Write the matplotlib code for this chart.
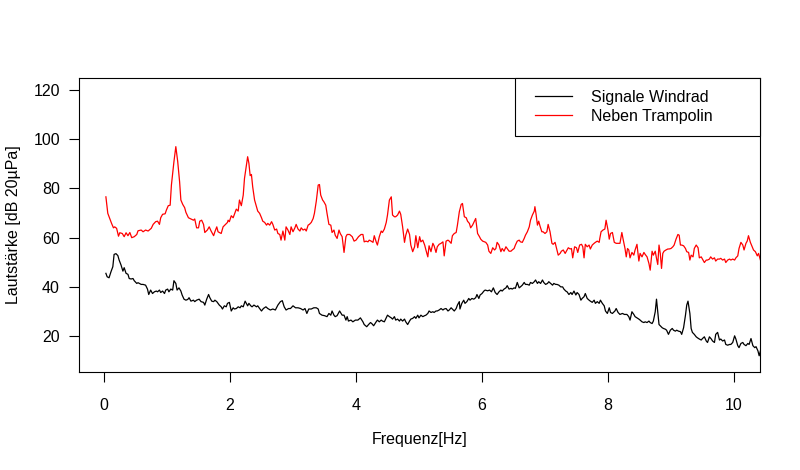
import matplotlib
matplotlib.use("Agg")
import matplotlib.pyplot as plt
from matplotlib.legend_handler import HandlerLine2D

plt.rcParams['font.family'] = ['Liberation Sans', 'DejaVu Sans']

series_labels = ["Signale Windrad", "Neben Trampolin"]
series_colors = ["black", "red"]

# Signale Windrad (frequency Hz, level dB)
windrad = [
    (0.03,45.5),(0.05,44.1),(0.08,43.7),(0.11,46.1),(0.14,48.2),(0.16,53.2),(0.19,53.5),(0.22,52.7),(0.24,50.9),(0.27,48.9),
    (0.30,46.4),(0.32,47.8),(0.35,45.5),(0.38,45.1),(0.40,43.4),(0.43,43.2),(0.46,43.4),(0.48,42.5),(0.52,41.4),(0.54,41.7),
    (0.59,41.0),(0.62,41.0),(0.66,40.7),(0.69,39.1),(0.71,36.9),(0.74,38.7),(0.77,37.3),(0.80,38.0),(0.83,38.3),(0.85,38.0),
    (0.88,38.7),(0.90,37.7),(0.93,38.3),(0.96,37.3),(0.98,38.7),(1.01,39.1),(1.03,38.0),(1.06,39.1),(1.09,38.7),(1.11,42.5),
    (1.14,41.4),(1.16,38.7),(1.19,39.6),(1.22,38.3),(1.24,36.7),(1.27,35.0),(1.30,34.6),(1.33,34.9),(1.35,35.6),(1.38,34.2),
    (1.42,34.6),(1.44,34.0),(1.47,34.6),(1.51,35.0),(1.54,34.0),(1.58,33.7),(1.60,32.6),(1.63,35.0),(1.66,36.9),(1.68,35.6),
    (1.71,34.2),(1.74,34.0),(1.76,34.6),(1.79,34.0),(1.83,32.6),(1.86,31.9),(1.88,31.0),(1.91,32.3),(1.94,31.9),(1.96,33.3),
    (1.99,33.7),
    (2.02,30.2),(2.05,31.5),(2.07,31.0),(2.10,31.2),(2.13,31.9),(2.16,31.5),(2.18,32.3),(2.21,31.9),(2.24,34.2),(2.28,32.3),
    (2.30,33.3),(2.33,32.3),(2.35,31.9),(2.38,32.6),(2.42,31.9),(2.44,32.3),(2.47,31.2),(2.50,30.2),(2.53,31.2),(2.57,31.9),
    (2.60,31.2),(2.64,30.6),(2.68,31.0),(2.72,30.6),(2.76,32.6),(2.80,34.0),(2.83,34.4),(2.86,31.9),(2.89,30.6),(2.93,31.2),
    (2.96,31.2),(3.00,32.3),(3.04,31.5),(3.08,31.5),(3.12,31.2),(3.16,30.6),(3.19,31.2),(3.22,29.2),(3.25,31.0),(3.29,31.0),
    (3.33,31.5),(3.37,31.5),(3.40,31.0),(3.42,29.2),(3.46,28.5),(3.50,28.3),(3.54,27.9),(3.57,29.2),(3.60,28.5),(3.62,30.2),
    (3.65,28.5),(3.67,27.9),(3.70,28.3),(3.74,30.2),(3.78,28.5),(3.81,28.5),(3.84,26.5),(3.86,27.9),(3.88,26.1),(3.92,26.5),
    (3.95,25.8),(3.99,26.5),(4.03,26.5),(4.07,27.4),
    (4.11,25.8),(4.13,24.7),(4.17,23.8),(4.20,24.7),(4.23,25.5),(4.25,25.1),(4.28,24.2),(4.32,25.8),(4.34,26.5),(4.37,25.8),
    (4.40,26.5),(4.42,26.1),(4.45,25.8),(4.48,27.4),(4.50,28.5),(4.53,27.9),(4.56,27.4),(4.58,26.9),(4.61,27.9),(4.63,26.5),
    (4.66,26.9),(4.69,26.1),(4.71,26.9),(4.74,26.1),(4.77,26.9),(4.79,25.8),(4.82,24.7),(4.85,26.1),(4.87,26.9),(4.90,27.2),
    (4.93,27.9),(4.95,27.2),(4.98,28.5),(5.00,27.4),(5.03,28.5),(5.06,27.9),(5.09,28.3),(5.11,28.5),(5.14,29.2),(5.16,30.2),
    (5.19,29.6),(5.22,29.9),(5.24,29.6),(5.27,30.2),(5.29,30.2),(5.32,30.6),(5.35,31.2),(5.38,30.6),(5.40,31.0),(5.43,31.2),
    (5.46,30.2),(5.48,30.6),(5.51,31.5),(5.53,31.0),(5.56,30.2),(5.59,31.2),(5.61,32.6),(5.64,34.0),(5.65,31.0),(5.68,33.3),
    (5.71,34.6),(5.73,33.3),(5.76,34.0),(5.79,35.3),(5.81,34.6),(5.84,35.3),(5.87,35.0),(5.90,35.6),(5.92,36.9),(5.95,35.3),
    (5.97,36.7),(6.00,37.3),(6.03,38.3),(6.05,38.7),(6.09,38.4),(6.12,38.7),(6.15,38.0),(6.18,39.6),(6.21,37.7),
    (6.24,36.9),(6.27,38.0),(6.30,38.7),(6.32,38.3),(6.35,39.1),(6.38,39.6),(6.40,40.5),(6.43,39.1),(6.46,39.4),(6.48,39.1),
    (6.51,39.6),(6.53,39.4),(6.56,41.8),(6.59,39.6),(6.61,40.0),(6.64,40.7),(6.67,41.8),(6.69,41.0),(6.72,41.0),(6.75,40.7),
    (6.77,41.8),(6.80,41.4),(6.83,42.1),(6.85,42.8),(6.88,41.4),(6.90,42.1),(6.93,41.4),(6.96,42.8),(6.98,41.8),(7.01,41.0),
    (7.04,41.4),(7.06,42.1),(7.09,41.4),(7.12,40.7),(7.14,41.4),(7.17,41.0),(7.19,41.0),(7.22,40.7),(7.25,40.0),(7.28,40.0),
    (7.30,39.1),(7.33,38.3),(7.35,38.0),(7.38,36.9),(7.41,37.7),(7.43,36.9),(7.46,38.3),(7.49,36.7),(7.51,37.7),(7.54,36.9),
    (7.57,34.6),(7.59,35.3),(7.62,36.0),(7.64,37.3),(7.67,35.3),(7.70,34.6),(7.72,34.2),(7.75,33.7),(7.78,34.6),(7.80,33.3),
    (7.83,34.0),(7.86,33.3),(7.88,34.6),(7.91,33.3),(7.94,32.3),(7.96,30.2),(7.99,29.2),(8.02,31.5),(8.04,29.6),(8.07,29.2),
    (8.11,30.2),(8.13,31.2),(8.16,29.6),(8.19,28.8),(8.23,29.2),(8.26,28.8),(8.30,28.8),(8.33,27.9),
    (8.35,26.5),(8.38,29.9),(8.41,28.8),(8.43,27.9),(8.46,27.4),(8.49,26.9),(8.51,26.5),(8.54,25.8),(8.57,25.5),(8.59,25.8),
    (8.62,25.5),(8.65,26.1),(8.67,25.5),(8.70,25.1),(8.72,26.1),(8.75,29.9),(8.77,35.0),(8.79,29.9),(8.81,24.7),(8.83,24.2),
    (8.86,23.4),(8.88,23.1),(8.91,22.8),(8.93,22.4),(8.96,20.7),(8.99,22.4),(9.02,23.1),(9.04,22.4),(9.07,22.0),(9.09,22.4),
    (9.12,22.0),(9.15,21.8),(9.17,20.7),(9.20,23.4),(9.23,28.5),(9.25,32.6),(9.27,34.2),(9.30,29.2),(9.32,23.1),(9.34,21.5),
    (9.37,20.7),(9.40,19.7),(9.42,19.3),(9.45,18.8),(9.48,18.4),(9.50,19.0),(9.53,19.7),(9.56,18.0),(9.58,17.4),(9.61,19.7),
    (9.64,18.8),(9.66,18.0),(9.69,17.4),(9.71,20.7),(9.74,21.5),(9.77,18.4),(9.79,18.8),(9.82,18.0),(9.85,18.4),(9.87,16.6),
    (9.90,16.3),(9.93,16.6),(9.95,16.6),(9.98,17.4),(10.01,20.1),(10.03,18.8),(10.06,16.1),(10.08,15.3),(10.11,17.0),(10.14,17.4),
    (10.16,16.6),(10.19,16.1),(10.22,17.0),(10.24,16.6),(10.27,19.0),(10.30,16.1),(10.33,15.3),(10.35,15.7),(10.38,14.0),(10.40,12.0),
    (10.42,14.0),
]

# Neben Trampolin (frequency Hz, level dB)
trampolin = [
    (0.03,76.6),(0.06,69.9),(0.10,67.1),(0.12,65.8),(0.15,64.0),(0.17,64.4),(0.20,63.8),(0.23,60.6),(0.25,62.0),(0.29,61.7),
    (0.32,60.4),(0.35,62.0),(0.38,60.8),(0.41,62.1),(0.44,60.0),(0.48,60.4),(0.52,61.3),(0.54,62.8),(0.59,63.1),(0.62,62.4),
    (0.66,63.1),(0.70,62.7),(0.75,63.8),(0.78,65.4),(0.82,66.5),(0.85,66.7),(0.88,65.4),(0.90,68.1),(0.93,69.5),(0.97,69.7),
    (0.99,71.2),(1.02,73.0),(1.05,73.2),(1.07,81.4),(1.11,90.9),(1.14,97.0),(1.17,90.9),(1.20,82.7),(1.22,75.3),(1.25,73.5),
    (1.28,72.2),(1.30,70.3),(1.34,68.1),(1.38,67.6),(1.42,67.1),(1.44,67.6),(1.47,64.0),(1.50,64.0),(1.52,66.7),(1.55,67.1),
    (1.58,65.4),(1.60,62.1),(1.64,63.1),(1.67,64.4),(1.70,62.7),(1.74,60.8),(1.76,62.4),(1.79,64.4),(1.81,62.4),(1.86,61.7),
    (1.89,64.4),(1.93,65.4),(1.96,66.2),
    (1.97,67.1),(1.99,66.5),(2.02,68.9),(2.05,68.1),(2.07,69.5),(2.10,71.6),(2.13,70.8),(2.15,75.3),(2.18,73.0),(2.21,77.3),
    (2.23,84.1),(2.26,89.5),(2.28,92.9),(2.30,90.2),(2.32,85.2),(2.34,85.7),(2.36,80.7),(2.39,75.3),(2.42,72.6),(2.44,70.8),
    (2.47,69.9),(2.50,68.1),(2.52,66.7),(2.55,66.2),(2.58,65.1),(2.60,65.8),(2.63,65.1),(2.66,66.5),(2.68,65.4),(2.71,63.1),
    (2.74,63.5),(2.76,61.7),(2.79,61.3),(2.81,59.0),(2.84,62.7),(2.87,59.0),(2.89,64.4),(2.92,63.1),(2.95,61.3),(2.97,64.4),
    (3.00,62.4),(3.03,64.0),(3.05,65.4),(3.08,63.5),(3.11,62.7),(3.13,64.0),(3.16,63.1),(3.19,63.5),(3.21,62.7),(3.24,65.1),
    (3.26,65.4),(3.29,66.2),(3.32,67.8),(3.34,69.9),(3.37,74.9),(3.40,81.4),(3.42,81.6),(3.44,77.3),(3.47,75.3),(3.49,74.6),
    (3.52,73.2),(3.54,69.9),(3.57,65.4),(3.60,65.1),(3.62,62.1),(3.65,63.1),(3.67,61.0),(3.70,59.7),(3.73,63.1),(3.75,61.7),
    (3.78,60.4),(3.81,54.0),(3.84,60.4),(3.86,61.3),(3.90,61.3),(3.94,60.4),(3.97,58.6),(4.00,59.0),(4.04,60.4),(4.08,61.3),
    (4.11,61.3),(4.13,58.3),(4.16,58.6),(4.19,58.3),(4.21,59.0),(4.24,58.6),(4.27,58.1),(4.29,60.8),(4.32,58.3),(4.34,57.0),
    (4.37,60.4),(4.40,62.7),(4.42,62.1),(4.45,63.5),(4.48,66.2),(4.50,69.2),(4.53,75.3),(4.56,76.6),(4.58,69.2),(4.61,68.5),
    (4.63,68.5),(4.66,69.2),(4.69,70.8),(4.71,69.5),(4.74,64.4),(4.77,58.1),(4.79,61.0),(4.82,63.5),(4.85,61.3),(4.87,57.0),
    (4.90,54.3),(4.93,56.3),(4.95,60.8),(4.98,55.9),(5.01,60.4),(5.03,58.3),(5.06,59.0),(5.09,57.0),(5.11,55.0),(5.14,52.2),
    (5.16,56.7),(5.19,54.3),(5.22,57.7),(5.24,56.7),(5.27,54.0),(5.29,56.3),(5.32,57.3),(5.35,57.7),(5.38,58.3),(5.40,52.6),
    (5.43,58.6),(5.46,59.0),(5.48,58.6),(5.51,57.7),(5.53,60.8),(5.56,61.7),(5.59,62.1),(5.61,65.1),(5.64,70.5),(5.67,73.5),
    (5.69,73.9),(5.72,68.5),(5.75,68.1),(5.77,66.7),(5.80,65.8),(5.82,64.0),(5.85,65.1),(5.88,66.7),(5.90,67.8),(5.93,61.7),
    (5.96,60.4),(5.98,59.4),(6.01,58.6),(6.04,58.3),(6.06,58.1),(6.09,57.0),(6.11,54.5),(6.14,53.6),(6.17,55.9),(6.20,55.0),
    (6.22,55.6),
    (6.24,58.1),(6.27,57.0),(6.30,54.3),(6.32,55.6),(6.35,54.5),(6.38,56.3),(6.40,55.6),(6.43,54.5),(6.46,54.5),(6.48,55.0),
    (6.51,55.6),(6.53,57.0),(6.56,58.6),(6.59,59.0),(6.61,58.3),(6.64,58.1),(6.67,59.7),(6.69,61.0),(6.72,62.4),(6.75,64.4),
    (6.77,67.1),(6.80,69.2),(6.83,70.8),(6.84,72.6),(6.86,69.2),(6.88,65.1),(6.90,66.7),(6.92,64.8),(6.95,62.4),(6.97,62.4),
    (7.00,61.7),(7.03,62.4),(7.05,65.4),(7.08,62.4),(7.11,57.7),(7.13,57.3),(7.16,58.1),(7.19,55.0),(7.21,52.9),(7.24,53.6),
    (7.26,54.5),(7.29,55.0),(7.32,53.6),(7.34,54.5),(7.37,55.9),(7.40,55.4),(7.42,55.6),(7.44,51.8),(7.47,56.3),(7.50,55.9),
    (7.52,54.0),(7.55,57.0),(7.58,57.3),(7.60,56.3),(7.62,51.8),(7.64,57.3),(7.67,56.3),(7.70,57.0),(7.72,55.4),(7.75,57.0),
    (7.78,57.7),(7.80,58.1),(7.83,58.6),(7.86,58.1),(7.87,59.7),(7.89,62.4),(7.92,63.1),(7.95,63.5),(7.97,67.1),(8.00,63.1),
    (8.02,59.4),(8.04,61.7),(8.07,62.1),(8.10,58.1),(8.13,57.7),(8.16,57.7),(8.19,57.7),(8.22,62.1),(8.24,59.4),(8.27,55.6),
    (8.29,52.2),(8.31,55.6),(8.33,55.0),
    (8.35,51.8),(8.38,54.0),(8.41,52.9),(8.43,55.0),(8.46,57.3),(8.49,50.5),(8.51,53.6),(8.54,52.2),(8.57,54.0),(8.59,53.2),
    (8.62,52.2),(8.65,49.5),(8.67,46.8),(8.70,54.5),(8.72,52.9),(8.75,54.5),(8.77,51.6),(8.79,49.1),(8.81,57.0),(8.83,53.6),
    (8.85,47.5),(8.87,53.6),(8.89,54.5),(8.92,55.0),(8.95,55.4),(8.97,55.4),(9.00,55.6),(9.03,56.3),(9.05,57.0),(9.08,59.4),
    (9.11,61.3),(9.13,61.0),(9.15,57.0),(9.17,57.0),(9.20,56.7),(9.23,55.6),(9.25,54.3),(9.28,54.0),(9.30,50.9),(9.32,52.9),
    (9.35,52.2),(9.37,55.6),(9.40,57.0),(9.43,55.9),(9.45,51.8),(9.48,52.2),(9.50,51.3),(9.53,49.9),(9.56,50.9),(9.58,50.9),
    (9.61,51.3),(9.63,52.2),(9.66,51.3),(9.69,51.8),(9.71,50.5),(9.74,51.3),(9.77,51.3),(9.79,51.6),(9.82,50.9),(9.85,51.3),
    (9.87,49.9),(9.90,50.9),(9.93,51.3),(9.95,50.9),(9.98,51.3),(10.01,50.9),(10.03,51.8),(10.06,52.6),(10.08,55.6),(10.11,58.1),
    (10.14,57.0),(10.16,55.0),(10.19,57.7),(10.21,58.6),(10.23,60.8),(10.26,58.1),(10.29,56.3),(10.31,55.0),(10.34,54.3),(10.37,52.6),
    (10.39,53.6),(10.42,50.9),
]

x_ticks = [0, 2, 4, 6, 8, 10]
y_ticks = [20, 40, 60, 80, 100, 120]
x_label = "Frequenz[Hz]"
y_label = "Lautstärke [dB 20µPa]"


class OffsetLineHandler(HandlerLine2D):
    """Line handle drawn with a small blank gap on its left, like R's legend."""
    def __init__(self, gap=0.5, **kw):
        super().__init__(**kw)
        self.gap = gap

    def get_xdata(self, legend, xdescent, ydescent, width, height, fontsize):
        g = self.gap * fontsize
        return [-xdescent + g, -xdescent + width], [-xdescent + g, -xdescent + width]


fig = plt.figure(figsize=(8, 4.7), dpi=100)
ax = fig.add_axes([79/800, 1 - 372/470, (760 - 79)/800, (372 - 78)/470])

lines = []
for data, lab, col in zip([windrad, trampolin], series_labels, series_colors):
    f = [p[0] for p in data]
    v = [p[1] for p in data]
    ln, = ax.plot(f, v, color=col, lw=0.9, label=lab)
    lines.append(ln)

ax.set_xlim(-0.397, 10.413)
ax.set_ylim(5.4, 124.9)
ax.set_xticks(x_ticks)
ax.set_yticks(y_ticks)
ax.set_xticklabels([str(t) for t in x_ticks])
ax.set_yticklabels([str(t) for t in y_ticks])
for s in ax.spines.values():
    s.set_linewidth(0.8)
    s.set_color("black")
ax.tick_params(direction="out", length=7, width=0.8, labelsize=11.5, colors="black")
ax.tick_params(axis="x", pad=11.5)
ax.tick_params(axis="y", pad=6.7)
ax.set_xlabel(x_label, fontsize=11.5, labelpad=14)
ax.set_ylabel(y_label, fontsize=11.5, labelpad=9)

handler = OffsetLineHandler(gap=0.5)
leg = ax.legend(handles=lines, loc="upper left", bbox_to_anchor=(0.640, 0.0, 0.360, 1.0), mode="expand",
                borderaxespad=0, fancybox=False, framealpha=1, edgecolor="black",
                fontsize=11.5, handlelength=2.8, handletextpad=1.2, borderpad=0.75,
                labelspacing=0.25, handler_map={ln: handler for ln in lines})
leg.get_frame().set_linewidth(0.8)

fig.savefig("out.png", dpi=100)
